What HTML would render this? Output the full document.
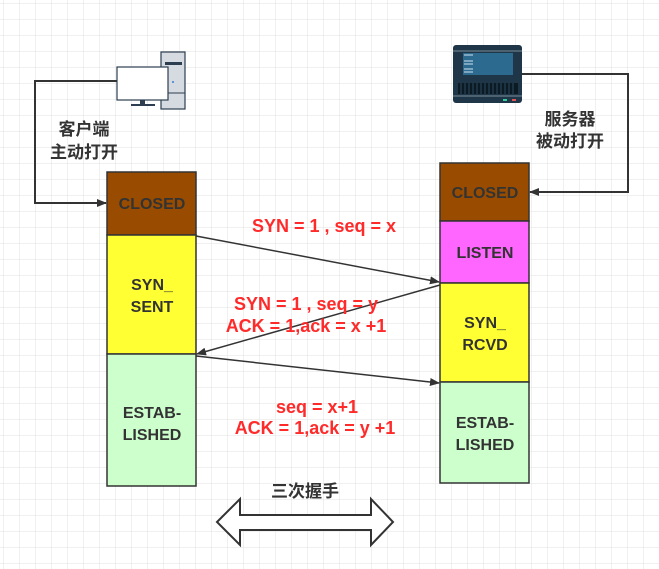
<!DOCTYPE html>
<html><head><meta charset="utf-8"><style>
html,body{margin:0;padding:0;background:#fff;}
svg{display:block;}
text{font-family:"Liberation Sans","Noto Sans CJK SC",sans-serif;font-weight:bold;}
</style></head><body>
<svg width="659" height="569" viewBox="0 0 659 569" xmlns="http://www.w3.org/2000/svg">
<defs>
<pattern id="g" width="16" height="16" patternUnits="userSpaceOnUse" x="3" y="3">
<path d="M16 0H0V16" fill="none" stroke="#e2e2e2" stroke-width="1"/>
</pattern>
<marker id="a" markerWidth="10" markerHeight="8" refX="9" refY="4" orient="auto" markerUnits="userSpaceOnUse">
<path d="M0,0 L10,4 L0,8 Z" fill="#333"/>
</marker>
</defs>
<rect width="659" height="569" fill="url(#g)"/>

<rect x="161" y="52" width="24" height="57" fill="#d5dbe1" stroke="#2d3e50" stroke-width="1.2"/>
<rect x="165" y="62" width="17" height="3" fill="#2d3e50"/>
<line x1="161" y1="93" x2="185" y2="93" stroke="#2d3e50"/>
<circle cx="173" cy="82" r="1" fill="#3a7bd5"/>
<rect x="117" y="67" width="51" height="33" fill="#fff" stroke="#2d3e50" stroke-width="1.2"/>
<rect x="140" y="100" width="5" height="4" fill="#2d3e50"/>
<rect x="131" y="104" width="24" height="2" fill="#2d3e50"/>

<rect x="453" y="45" width="69" height="58" rx="3" fill="#1e3648"/>
<line x1="453" y1="51" x2="522" y2="51" stroke="#7a8d9a" stroke-width="1"/>
<rect x="463" y="53" width="50" height="22" fill="#2d6a90"/>
<g stroke="#cfe3f0" stroke-width="1"><line x1="464" y1="55" x2="473" y2="55"/><line x1="464" y1="61" x2="473" y2="61"/><line x1="464" y1="64" x2="473" y2="64"/><line x1="464" y1="69" x2="473" y2="69"/><line x1="464" y1="72" x2="473" y2="72"/></g>
<rect x="458" y="83" width="60" height="11" fill="#0c1a24"/>
<g stroke="#2a4a60" stroke-width="1"><line x1="461" y1="83" x2="461" y2="94"/><line x1="465" y1="83" x2="465" y2="94"/><line x1="469" y1="83" x2="469" y2="94"/><line x1="473" y1="83" x2="473" y2="94"/><line x1="477" y1="83" x2="477" y2="94"/><line x1="481" y1="83" x2="481" y2="94"/><line x1="485" y1="83" x2="485" y2="94"/><line x1="489" y1="83" x2="489" y2="94"/><line x1="493" y1="83" x2="493" y2="94"/><line x1="497" y1="83" x2="497" y2="94"/><line x1="501" y1="83" x2="501" y2="94"/><line x1="505" y1="83" x2="505" y2="94"/><line x1="509" y1="83" x2="509" y2="94"/><line x1="513" y1="83" x2="513" y2="94"/></g>
<line x1="453" y1="96" x2="522" y2="96" stroke="#7a8d9a"/>
<rect x="503" y="99" width="4" height="2" fill="#3c9"/>
<rect x="512" y="99" width="4" height="2" fill="#d55"/>

<polyline points="117,81 35,81 35,203 106,203" fill="none" stroke="#333" stroke-width="2" marker-end="url(#a)"/>
<polyline points="522,74 628,74 628,192 530,192" fill="none" stroke="#333" stroke-width="2" marker-end="url(#a)"/>

<text x="84" y="135" font-size="17" fill="#333" text-anchor="middle">客户端</text>
<text x="84" y="158" font-size="17" fill="#333" text-anchor="middle">主动打开</text>
<text x="570" y="125" font-size="17" fill="#333" text-anchor="middle">服务器</text>
<text x="570" y="147" font-size="17" fill="#333" text-anchor="middle">被动打开</text>

<g stroke="#333" stroke-width="1.5">
<rect x="107" y="172" width="89" height="63" fill="#994c00"/>
<rect x="107" y="235" width="89" height="119" fill="#ffff33"/>
<rect x="107" y="354" width="89" height="132" fill="#ccffcc"/>
<rect x="440" y="163" width="89" height="58" fill="#994c00"/>
<rect x="440" y="221" width="89" height="62" fill="#ff66ff"/>
<rect x="440" y="283" width="89" height="99" fill="#ffff33"/>
<rect x="440" y="382" width="89" height="101" fill="#ccffcc"/>
</g>
<g font-size="16" fill="#333" text-anchor="middle">
<text x="152" y="209">CLOSED</text>
<text x="152" y="290">SYN_</text>
<text x="152" y="312">SENT</text>
<text x="152" y="418">ESTAB-</text>
<text x="152" y="440">LISHED</text>
<text x="485" y="198">CLOSED</text>
<text x="485" y="258">LISTEN</text>
<text x="485" y="328">SYN_</text>
<text x="485" y="350">RCVD</text>
<text x="485" y="428">ESTAB-</text>
<text x="485" y="450">LISHED</text>
</g>

<g stroke="#333" stroke-width="1.5" fill="none">
<line x1="196" y1="236" x2="439" y2="282" marker-end="url(#a)"/>
<line x1="440" y1="285" x2="197" y2="354" marker-end="url(#a)"/>
<line x1="196" y1="356" x2="439" y2="383" marker-end="url(#a)"/>
</g>
<g font-size="18" fill="#ff2a2a" text-anchor="middle">
<text x="324" y="232">SYN = 1 , seq = x</text>
<text x="306" y="310">SYN = 1 , seq = y</text>
<text x="306" y="332">ACK = 1,ack = x +1</text>
<text x="317" y="413">seq = x+1</text>
<text x="315" y="434">ACK = 1,ack = y +1</text>
</g>

<text x="305" y="497" font-size="17" fill="#333" text-anchor="middle">三次握手</text>
<path d="M217,522 L240,499 L240,515 L371,515 L371,499 L393,522 L371,545 L371,530 L240,530 L240,545 Z" fill="#fff" stroke="#333" stroke-width="2"/>
</svg>
</body></html>
